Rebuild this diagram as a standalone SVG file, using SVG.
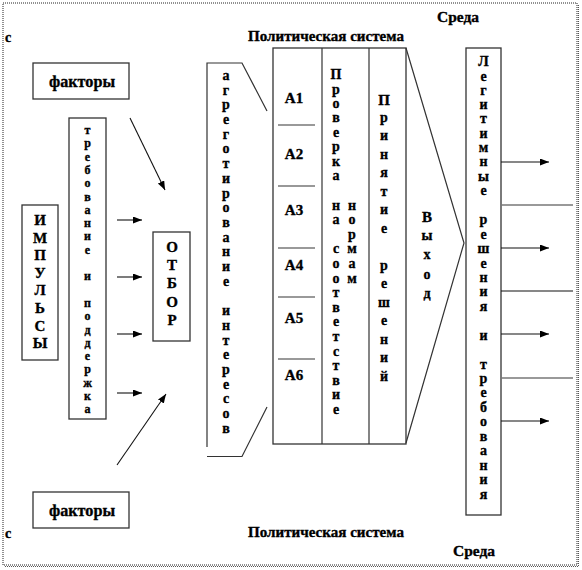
<svg xmlns="http://www.w3.org/2000/svg" width="582" height="570" viewBox="0 0 582 570">
<defs>
<style>
.t{font-family:"Liberation Serif","Times New Roman","DejaVu Serif",serif;font-weight:bold;fill:#000;stroke:#000;stroke-width:0.35}
.col{font-size:14px;text-anchor:middle}
.sm{font-size:12px;text-anchor:middle}
.cap{font-size:15px;text-anchor:middle}
.box{fill:#fff;stroke:#333;stroke-width:1.3}
.ln{fill:none;stroke:#333;stroke-width:1.2}
.gl{fill:none;stroke:#777;stroke-width:1.5}
.ar{fill:none;stroke:#111;stroke-width:1.1}
</style>
<marker id="ah" markerUnits="userSpaceOnUse" markerWidth="10" markerHeight="8" refX="9" refY="3.5" orient="auto">
<path d="M0,0 L9,3.5 L0,7 z" fill="#000"/>
</marker>
</defs>
<rect x="0" y="0" width="582" height="570" fill="#fff"/>
<g id="frame">
<rect x="3" y="3" width="574" height="562" fill="none" stroke="#222" stroke-width="1" stroke-dasharray="1 1"/>
<line x1="578.5" y1="5" x2="578.5" y2="566.5" stroke="#555" stroke-width="1" stroke-dasharray="1 1"/>
<line x1="5" y1="566.5" x2="578.5" y2="566.5" stroke="#555" stroke-width="1" stroke-dasharray="1 1"/>
</g>
<g id="labels">
<text class="t" x="5" y="42" font-size="14">с</text>
<text class="t" x="248" y="41" font-size="15" textLength="156" lengthAdjust="spacingAndGlyphs">Политическая система</text>
<text class="t" x="437" y="22" font-size="15" textLength="42" lengthAdjust="spacingAndGlyphs">Среда</text>
<text class="t" x="5" y="538" font-size="14">с</text>
<text class="t" x="248" y="537" font-size="15" textLength="156" lengthAdjust="spacingAndGlyphs">Политическая система</text>
<text class="t" x="453" y="556" font-size="15" textLength="42" lengthAdjust="spacingAndGlyphs">Среда</text>
</g>
<g id="factors-top">
<rect class="box" x="33" y="63" width="96" height="36"/>
<text class="t" x="49" y="87" font-size="16" textLength="66" lengthAdjust="spacingAndGlyphs">факторы</text>
</g>
<g id="factors-bottom">
<rect class="box" x="33" y="492" width="96" height="36"/>
<text class="t" x="49" y="516" font-size="16" textLength="66" lengthAdjust="spacingAndGlyphs">факторы</text>
</g>
<g id="impulses">
<rect class="box" x="22" y="205" width="36" height="155"/>
<text class="t cap"><tspan x="40" y="225">И</tspan><tspan x="40" y="243">М</tspan><tspan x="40" y="260">П</tspan><tspan x="40" y="278">У</tspan><tspan x="40" y="295">Л</tspan><tspan x="40" y="313">Ь</tspan><tspan x="40" y="331">С</tspan><tspan x="40" y="348">Ы</tspan></text>
</g>
<g id="demands">
<rect class="box" x="69" y="118" width="37" height="301"/>
<text class="t sm"><tspan x="87.5" y="134">т</tspan><tspan x="87.5" y="147">р</tspan><tspan x="87.5" y="161">е</tspan><tspan x="87.5" y="174">б</tspan><tspan x="87.5" y="187">о</tspan><tspan x="87.5" y="201">в</tspan><tspan x="87.5" y="214">а</tspan><tspan x="87.5" y="227">н</tspan><tspan x="87.5" y="240">и</tspan><tspan x="87.5" y="254">е</tspan><tspan x="87.5" y="280">и</tspan><tspan x="87.5" y="307">п</tspan><tspan x="87.5" y="320">о</tspan><tspan x="87.5" y="334">д</tspan><tspan x="87.5" y="347">д</tspan><tspan x="87.5" y="360">е</tspan><tspan x="87.5" y="373">р</tspan><tspan x="87.5" y="387">ж</tspan><tspan x="87.5" y="400">к</tspan><tspan x="87.5" y="413">а</tspan></text>
</g>
<g id="selection">
<rect class="box" x="153" y="232" width="37" height="109"/>
<text class="t cap"><tspan x="172" y="252">О</tspan><tspan x="172" y="270">Т</tspan><tspan x="172" y="288">Б</tspan><tspan x="172" y="307">О</tspan><tspan x="172" y="325">Р</tspan></text>
</g>
<g id="aggregation">
<path class="ln" d="M207,447 L207,63 L242,63 L267,111"/>
<path class="ln" d="M207,456.5 L242,456.5 L267,407"/>
<text class="t col"><tspan x="226" y="80">а</tspan><tspan x="226" y="95">г</tspan><tspan x="226" y="109">р</tspan><tspan x="226" y="124">е</tspan><tspan x="226" y="139">г</tspan><tspan x="226" y="153">о</tspan><tspan x="226" y="168">т</tspan><tspan x="226" y="183">и</tspan><tspan x="226" y="198">р</tspan><tspan x="226" y="212">о</tspan><tspan x="226" y="227">в</tspan><tspan x="226" y="242">а</tspan><tspan x="226" y="256">н</tspan><tspan x="226" y="271">и</tspan><tspan x="226" y="286">е</tspan><tspan x="226" y="315">и</tspan><tspan x="226" y="330">н</tspan><tspan x="226" y="345">т</tspan><tspan x="226" y="359">е</tspan><tspan x="226" y="374">р</tspan><tspan x="226" y="389">е</tspan><tspan x="226" y="403">с</tspan><tspan x="226" y="418">о</tspan><tspan x="226" y="433">в</tspan></text>
</g>
<g id="political-system">
<rect class="box" x="273" y="48" width="133" height="396"/>
<line class="ln" x1="322" y1="48" x2="322" y2="444"/>
<line class="ln" x1="369" y1="48" x2="369" y2="444"/>
<line class="gl" x1="278" y1="125" x2="315" y2="125"/>
<line class="ln" x1="278" y1="186" x2="315" y2="186"/>
<line class="gl" x1="278" y1="248" x2="315" y2="248"/>
<line class="gl" x1="278" y1="297" x2="315" y2="297"/>
<line class="gl" x1="278" y1="359" x2="315" y2="359"/>
<text class="t cap"><tspan x="294" y="103">А1</tspan><tspan x="294" y="159">А2</tspan><tspan x="294" y="215">А3</tspan><tspan x="294" y="270">А4</tspan><tspan x="294" y="323">А5</tspan><tspan x="294" y="380">А6</tspan></text>
<text class="t col"><tspan x="336" y="79">П</tspan><tspan x="336" y="94">р</tspan><tspan x="336" y="108">о</tspan><tspan x="336" y="122">в</tspan><tspan x="336" y="137">е</tspan><tspan x="336" y="151">р</tspan><tspan x="336" y="166">к</tspan><tspan x="336" y="180">а</tspan><tspan x="336" y="210">н</tspan><tspan x="336" y="224">а</tspan><tspan x="336" y="253">с</tspan><tspan x="336" y="268">о</tspan><tspan x="336" y="283">о</tspan><tspan x="336" y="297">т</tspan><tspan x="336" y="312">в</tspan><tspan x="336" y="326">е</tspan><tspan x="336" y="341">т</tspan><tspan x="336" y="356">с</tspan><tspan x="336" y="370">т</tspan><tspan x="336" y="385">в</tspan><tspan x="336" y="399">и</tspan><tspan x="336" y="414">е</tspan></text>
<text class="t col"><tspan x="352" y="210">н</tspan><tspan x="352" y="224">о</tspan><tspan x="352" y="239">р</tspan><tspan x="352" y="253">м</tspan><tspan x="352" y="268">а</tspan><tspan x="352" y="283">м</tspan></text>
<text class="t col"><tspan x="384" y="105" font-size="15">П</tspan><tspan x="384" y="122">р</tspan><tspan x="384" y="140">и</tspan><tspan x="384" y="159">н</tspan><tspan x="384" y="177">я</tspan><tspan x="384" y="196">т</tspan><tspan x="384" y="214">и</tspan><tspan x="384" y="233">е</tspan><tspan x="384" y="270">р</tspan><tspan x="384" y="288">е</tspan><tspan x="384" y="307">ш</tspan><tspan x="384" y="325">е</tspan><tspan x="384" y="344">н</tspan><tspan x="384" y="362">и</tspan><tspan x="384" y="381">й</tspan></text>
</g>
<g id="output">
<path class="ln" d="M406,48 L464,243 L406,443"/>
<text class="t col"><tspan x="427" y="222" font-size="15">В</tspan><tspan x="427" y="240">ы</tspan><tspan x="427" y="259">х</tspan><tspan x="427" y="279">о</tspan><tspan x="427" y="298">д</tspan></text>
</g>
<g id="legitimate">
<rect class="box" x="466" y="48" width="35" height="467"/>
<text class="t col"><tspan x="483.5" y="66">Л</tspan><tspan x="483.5" y="81">е</tspan><tspan x="483.5" y="95">г</tspan><tspan x="483.5" y="109">и</tspan><tspan x="483.5" y="123">т</tspan><tspan x="483.5" y="138">и</tspan><tspan x="483.5" y="152">м</tspan><tspan x="483.5" y="166">н</tspan><tspan x="483.5" y="181">ы</tspan><tspan x="483.5" y="195">е</tspan><tspan x="483.5" y="224">р</tspan><tspan x="483.5" y="239">е</tspan><tspan x="483.5" y="253">ш</tspan><tspan x="483.5" y="268">е</tspan><tspan x="483.5" y="282">н</tspan><tspan x="483.5" y="296">и</tspan><tspan x="483.5" y="311">я</tspan><tspan x="483.5" y="340">и</tspan><tspan x="483.5" y="369">т</tspan><tspan x="483.5" y="383">р</tspan><tspan x="483.5" y="397">е</tspan><tspan x="483.5" y="412">б</tspan><tspan x="483.5" y="426">о</tspan><tspan x="483.5" y="441">в</tspan><tspan x="483.5" y="455">а</tspan><tspan x="483.5" y="470">н</tspan><tspan x="483.5" y="484">и</tspan><tspan x="483.5" y="499">я</tspan></text>
</g>
<g id="connectors">
<line class="ar" x1="130" y1="118" x2="165" y2="190" marker-end="url(#ah)"/>
<line class="ar" x1="117" y1="465" x2="166" y2="394" marker-end="url(#ah)"/>
<line class="ar" x1="117" y1="220" x2="142" y2="220" marker-end="url(#ah)"/>
<line class="ar" x1="117" y1="277" x2="142" y2="277" marker-end="url(#ah)"/>
<line class="ar" x1="117" y1="334" x2="142" y2="334" marker-end="url(#ah)"/>
<line class="ar" x1="117" y1="393" x2="142" y2="393" marker-end="url(#ah)"/>
<line class="ar" x1="501" y1="162" x2="549" y2="162" marker-end="url(#ah)"/>
<line class="ar" x1="501" y1="248" x2="549" y2="248" marker-end="url(#ah)"/>
<line class="ar" x1="501" y1="334" x2="549" y2="334" marker-end="url(#ah)"/>
<line class="ar" x1="501" y1="421" x2="549" y2="421" marker-end="url(#ah)"/>
<line class="gl" x1="501" y1="205" x2="573" y2="205"/>
<line class="ar" x1="501" y1="291" x2="573" y2="291"/>
<line class="gl" x1="501" y1="378" x2="573" y2="378"/>
</g>
</svg>
